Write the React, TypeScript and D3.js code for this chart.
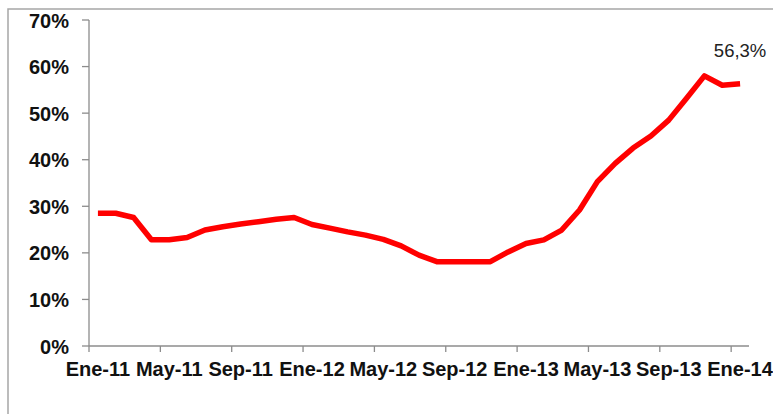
import React from 'react';
import * as d3 from 'd3';

const months: string[] = [
  'Ene-11', 'Feb-11', 'Mar-11', 'Abr-11', 'May-11', 'Jun-11', 'Jul-11', 'Ago-11', 'Sep-11', 'Oct-11', 'Nov-11', 'Dic-11',
  'Ene-12', 'Feb-12', 'Mar-12', 'Abr-12', 'May-12', 'Jun-12', 'Jul-12', 'Ago-12', 'Sep-12', 'Oct-12', 'Nov-12', 'Dic-12',
  'Ene-13', 'Feb-13', 'Mar-13', 'Abr-13', 'May-13', 'Jun-13', 'Jul-13', 'Ago-13', 'Sep-13', 'Oct-13', 'Nov-13', 'Dic-13',
  'Ene-14',
];

const values: number[] = [
  28.5, 28.5, 27.6, 22.8, 22.8, 23.3, 24.9, 25.6, 26.2, 26.7, 27.2, 27.6,
  26.1, 25.3, 24.5, 23.8, 22.9, 21.5, 19.5, 18.1, 18.1, 18.1, 18.1, 20.2,
  22.0, 22.8, 24.9, 29.2, 35.3, 39.2, 42.5, 45.1, 48.5, 53.2, 58.0, 56.0,
  56.3,
];

const yTicks: number[] = [0, 10, 20, 30, 40, 50, 60, 70];
const shownLabels: string[] = ['Ene-11', 'May-11', 'Sep-11', 'Ene-12', 'May-12', 'Sep-12', 'Ene-13', 'May-13', 'Sep-13', 'Ene-14'];
const endLabel = '56,3%';

const W = 773;
const H = 414;
const left = 89;
const right = 749;
const top = 20;
const bottom = 346;
const axisColor = '#8c8c8c';
const font = '"Liberation Sans", Arial, sans-serif';

export default function App(): React.ReactElement {
  const x = d3.scaleBand<string>().domain(months).range([left, right]);
  const y = d3.scaleLinear().domain([0, 70]).range([bottom, top]);

  const line = d3.line<number>()
    .x((_, i) => (x(months[i]) ?? 0) + x.bandwidth() / 2)
    .y((d) => y(d));

  const lastX = (x(months[months.length - 1]) ?? 0) + x.bandwidth() / 2;

  return (
    <svg
      width={W}
      height={H}
      style={{ position: 'absolute', left: 0, top: 0, background: '#fff' }}
    >
      {/* outer chart border */}
      <rect x={8} y={9} width={W + 20} height={H + 20} fill="none" stroke="#a6a6a6" strokeWidth={1.5} />

      {/* y axis */}
      <line x1={left} x2={left} y1={top} y2={bottom} stroke={axisColor} strokeWidth={1.3} />
      {yTicks.map((t) => (
        <g key={t}>
          <line x1={left - 7} x2={left} y1={y(t)} y2={y(t)} stroke={axisColor} strokeWidth={1.3} />
          <text
            x={left - 20}
            y={y(t) + 7.5}
            textAnchor="end"
            fontFamily={font}
            fontWeight="bold"
            fontSize={20}
            fill="#111"
          >
            {`${t}%`}
          </text>
        </g>
      ))}

      {/* x axis */}
      <line x1={left} x2={right} y1={bottom} y2={bottom} stroke={axisColor} strokeWidth={1.3} />
      {shownLabels.map((m) => {
        const bx = x(m) ?? 0;
        return (
          <g key={m}>
            <line x1={bx} x2={bx} y1={bottom} y2={bottom + 6} stroke={axisColor} strokeWidth={1.3} />
            <text
              x={bx + x.bandwidth() / 2}
              y={bottom + 30}
              textAnchor="middle"
              fontFamily={font}
              fontWeight="bold"
              fontSize={20}
              fill="#111"
            >
              {m}
            </text>
          </g>
        );
      })}

      <path
        d={line(values) ?? ''}
        fill="none"
        stroke="#ff0000"
        strokeWidth={5.5}
        strokeLinejoin="round"
        strokeLinecap="butt"
      />

      <text
        x={lastX}
        y={57}
        textAnchor="middle"
        fontFamily={font}
        fontSize={18.5}
        fill="#222"
      >
        {endLabel}
      </text>
    </svg>
  );
}
